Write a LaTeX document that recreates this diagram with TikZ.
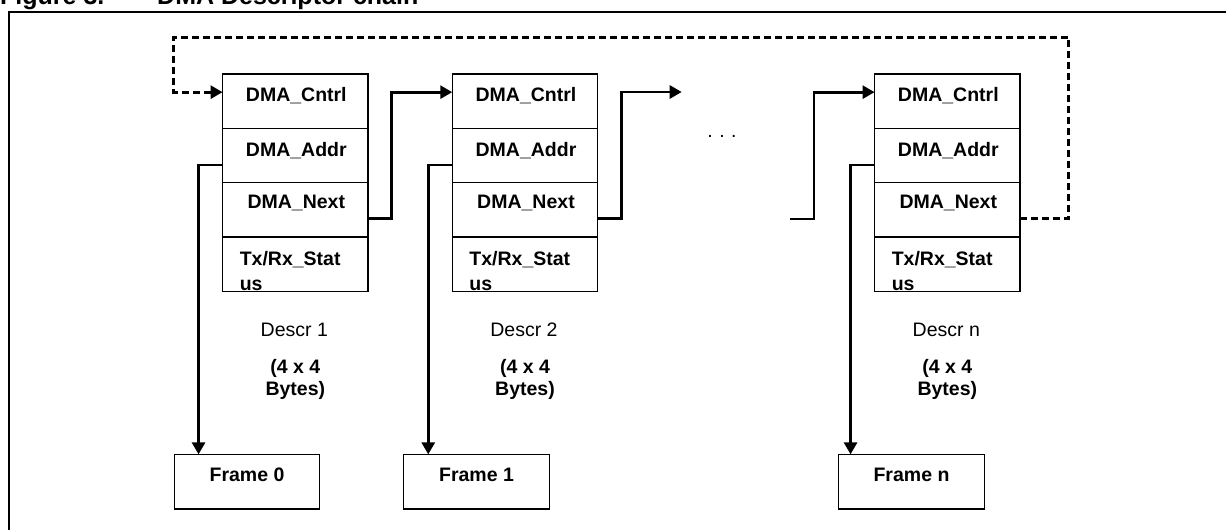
\documentclass[tikz,border=0pt]{standalone}
\usepackage{fontspec}
\setmainfont{Liberation Sans}[BoldFont={Liberation Sans Bold}]
\newfontfamily\arialbold{Liberation Sans Bold}
\usetikzlibrary{arrows.meta}
\begin{document}
\begin{tikzpicture}[x=1pt,y=-1pt,
  cell/.style={draw,line width=1.4pt,minimum width=145.5pt,minimum height=54.3pt,inner sep=0pt,outer sep=0pt},
  celltxt/.style={font=\arialbold\fontsize{19.5}{25}\selectfont,inner sep=0pt},
  framebox/.style={draw,line width=1.4pt,minimum width=145.5pt,minimum height=54.7pt,inner sep=0pt,outer sep=0pt},
  desctxt/.style={font=\fontsize{19.5}{22}\selectfont,inner sep=0pt,align=center},
  bytestxt/.style={font=\arialbold\fontsize{19.5}{22}\selectfont,inner sep=0pt,align=center},
  arr/.style={line width=2.8pt,-{Triangle[length=12pt,width=13pt]}},
  dasharr/.style={arr,dash pattern=on 7pt off 4pt},
  titletxt/.style={font=\arialbold\fontsize{25}{30}\selectfont,inner sep=0pt,anchor=base west}]
\useasboundingbox (0,0) rectangle (1226,530);
\begin{scope}
  \clip (0,0) rectangle (1226,530);
  \node[titletxt] (title1) at (0,5) {Figure 3.};
  \node[titletxt] (title2) at (157,5) {DMA Descriptor chain};
  \draw[line width=2.8pt] (9,560) -- (9,12) -- (1250,12);
\end{scope}
% descriptor boxes
\foreach \i/\x in {1/295.3,2/525,n/947.3}{
  \node[cell] (c\i a) at (\x,101.15) {};
  \node[cell] (c\i b) at (\x,155.45) {};
  \node[cell] (c\i c) at (\x,209.75) {};
  \node[cell] (c\i d) at (\x,264.05) {};
  \node[celltxt] at ([xshift=1pt,yshift=6pt]c\i a.center) {DMA\_Cntrl};
  \node[celltxt] at ([xshift=1pt,yshift=5pt]c\i b.center) {DMA\_Addr};
  \node[celltxt] at ([xshift=1pt,yshift=7pt]c\i c.center) {DMA\_Next};
  \node[celltxt,anchor=west,align=left] at ([xshift=17pt,yshift=-6.5pt]c\i d.west) {Tx/Rx\_Stat\\us};
  \node[desctxt] at (\x-1,330) {Descr \i};
  \node[bytestxt] at (\x,379) {(4 x 4\\Bytes)};
}
% frame boxes
\node[framebox] (f1) at (247,481.7) {};
\node[framebox] (f2) at (476.5,481.7) {};
\node[framebox] (fn) at (911.5,481.7) {};
\node[celltxt] at ([yshift=7pt]f1.center) {Frame 0};
\node[celltxt] at ([yshift=7pt]f2.center) {Frame 1};
\node[celltxt] at ([yshift=7pt]fn.center) {Frame n};
% address arrows
\foreach \i in {1,2,n}{
  \draw[arr] ([yshift=-9.5pt]c\i b.west) -- ++(-24,0) coordinate (t\i) -- (t\i |- f\i.north);
}
% next arrows
\coordinate (dotsR) at (681.7,92);
\coordinate (dotsL) at (790,219);
\draw[arr] ([yshift=-9pt]c1c.east) -- ++(23.7,0) |- ([yshift=9pt]c2a.west);
\draw[arr] ([yshift=-9pt]c2c.east) -- ++(24,0) |- (dotsR);
\draw[arr] (dotsL) -- ++(24,0) |- ([yshift=9pt]cna.west);
\node[desctxt,anchor=base] (dots) at (722,137.5) {.\,\,.\,\,.};
% loop back
\coordinate (loopR) at (1068.7,37.3);
\coordinate (loopL) at (173.7,37.3);
\draw[dasharr] ([yshift=-9pt]cnc.east) -| (loopR) -- (loopL) |- ([yshift=9pt]c1a.west);
\end{tikzpicture}
\end{document}
